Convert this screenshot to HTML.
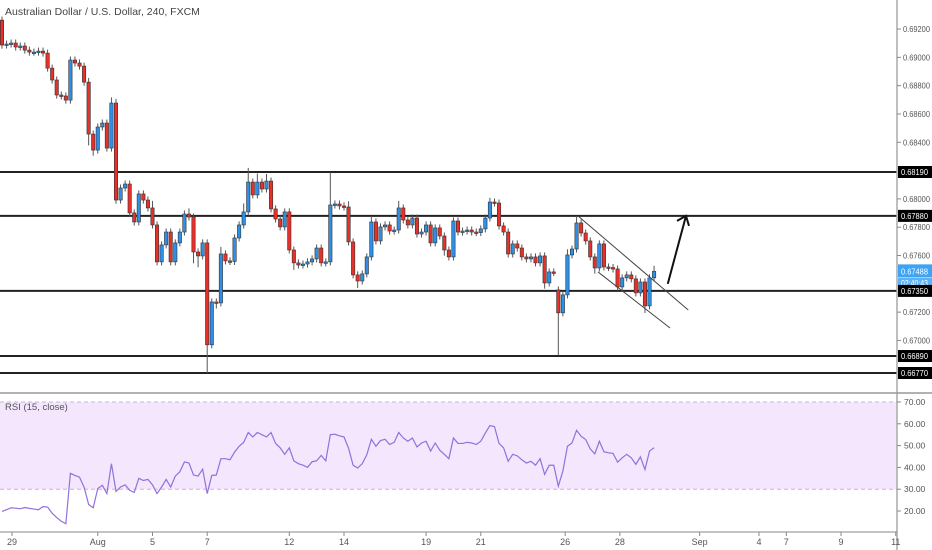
<!DOCTYPE html>
<html><head><meta charset="utf-8">
<style>
html,body{margin:0;padding:0;background:#fff;}
svg{display:block;font-family:"Liberation Sans",sans-serif;}
</style></head>
<body>
<svg id="chart" width="932" height="550" viewBox="0 0 932 550">
  <g id="price-pane"></g>
  <g id="rsi-pane"></g>
  <g id="axes"></g>
  <text x="5" y="15" font-size="10.5" fill="#444">Australian Dollar / U.S. Dollar, 240, FXCM</text>
  <text x="5" y="410" font-size="9.5" fill="#555">RSI (15, close)</text>
</svg>
<script>
const closes = [0.69087,0.69094,0.69101,0.69073,0.69080,0.69051,0.69037,0.69037,0.69044,0.69030,
0.68924,0.68840,0.68734,0.68727,0.68698,0.68981,0.68960,0.68938,0.68825,0.68458,
0.68345,0.68508,0.68536,0.68359,0.68677,0.67992,0.68077,0.68105,0.67901,0.67837,
0.68035,0.67992,0.67936,0.67816,0.67555,0.67675,0.67766,0.67555,0.67689,0.67766,
0.67893,0.67872,0.67625,0.67597,0.67689,0.66969,0.67272,0.67265,0.67611,0.67562,
0.67558,0.67724,0.67816,0.67908,0.68119,0.68028,0.68119,0.68070,0.68126,0.67929,
0.67858,0.67802,0.67908,0.67639,0.67548,0.67533,0.67540,0.67555,0.67576,0.67653,
0.67548,0.67555,0.67957,0.67964,0.67950,0.67943,0.67696,0.67463,0.67420,0.67470,
0.67590,0.67837,0.67703,0.67802,0.67816,0.67773,0.67780,0.67936,0.67851,0.67816,
0.67865,0.67752,0.67766,0.67816,0.67689,0.67795,0.67738,0.67639,0.67590,0.67844,
0.67766,0.67773,0.67780,0.67766,0.67762,0.67788,0.67865,0.67978,0.67971,0.67809,
0.67766,0.67611,0.67682,0.67653,0.67590,0.67576,0.67590,0.67548,0.67597,0.67406,
0.67484,0.67480,0.67195,0.67322,0.67604,0.67646,0.67830,0.67759,0.67703,0.67590,
0.67512,0.67682,0.67519,0.67515,0.67505,0.67378,0.67442,0.67463,0.67435,0.67336,
0.67413,0.67244,0.67442,0.67488];
const firstOpen = 0.69263;
const gapOpens = [[122,0.67357]];
const upperWickPips = [[19,3],[24,4],[25,3],[33,5],[41,4],[48,5],[53,6],[54,10],[56,6],[58,5],[72,23],[76,4],[81,4],[87,5],[107,3],[124,4],[126,5],[143,4]];
const lowerWickPips = [[19,8],[20,4],[42,8],[43,8],[45,20],[47,4],[64,5],[78,5],[97,4],[119,4],[122,30],[130,4],[141,5]];
const rsiValues = [19.8,20.6,21.5,21.3,21,21.6,21.2,20.9,20.6,22,21.8,19,17,15.3,14.2,37.3,36.3,35.5,31,23,
21.5,30.3,31.8,28,41.7,29,31,32,29.5,28.5,35,34,34.5,32,28,31,34.5,31,36,38,
42.5,42,36.5,36,39.2,28,36.3,36.5,44,44,43.5,47,49.7,51.5,56,54,56,55,54,56,
51,49,46,49,43,41.7,41,40,42.6,43,45.5,43,55,55.2,54.5,54,48.8,41,39.7,41.7,
45.8,52.9,49.7,52.3,52.9,50.5,51.5,56,53.5,52,53.5,49.4,51.2,52,47.5,51.2,47.9,46,44,53.5,
51,51,51.5,51.2,50.5,52,55.8,59.2,58.7,51,49,42.8,46,45.3,43.5,42,42.8,41,44,36.8,
41,41,31.4,38.3,49.7,51.2,57,54.3,52.8,48.5,46.2,52,47.2,46.7,46.4,42.4,44.4,46,44.4,41.4,
44.8,39,47.5,49];
const levelPrices = [0.68190,0.67880,0.67350,0.66890,0.66770];
const levelLabels = ["0.68190","0.67880","0.67350","0.66890","0.66770"];
const priceTicks = [0.692,0.690,0.688,0.686,0.684,0.680,0.678,0.676,0.672,0.670];
const priceTickLabels = ["0.69200","0.69000","0.68800","0.68600","0.68400","0.68000","0.67800","0.67600","0.67200","0.67000"];
const rsiTicks = [70,60,50,40,30,20];
const rsiTickLabels = ["70.00","60.00","50.00","40.00","30.00","20.00"];
const dateTickIdx = [2.2,21,33,45,63,75,93,105,123.5,135.5,153,166,172,184,196];
const dateTickLabels = ["29","Aug","5","7","12","14","19","21","26","28","Sep","4","7","9","11"];
const channelUpper = [[126.3,0.67880],[150.5,0.67215]];
const channelLower = [[130.7,0.67484],[146.5,0.67088]];
const arrowLine = [[146,0.67400],[150,0.67880]];

const NS="http://www.w3.org/2000/svg";
const AXIS_X=897, STEP=4.56, X0=2;
const xS=i=>X0+i*STEP;
const yP=p=>172+(0.68190-p)*14155;
const yR=v=>402+(70-v)*2.18;
function mk(tag,attrs,parent){const e=document.createElementNS(NS,tag);for(const k in attrs)e.setAttribute(k,attrs[k]);parent.appendChild(e);return e;}
const pp=document.getElementById('price-pane'), rp=document.getElementById('rsi-pane'), ax=document.getElementById('axes');

let band=mk('rect',{x:0,y:yR(70),width:AXIS_X,height:yR(30)-yR(70),fill:'#f3e6fd'},rp);


[70,30].forEach(v=>{let l=mk('line',{x1:0,x2:AXIS_X,y1:yR(v),y2:yR(v),stroke:'#c8b4d8','stroke-dasharray':'4,3','stroke-width':1},rp);

});

levelPrices.forEach((p,k)=>{let l=mk('line',{x1:0,x2:AXIS_X,y1:yP(p),y2:yP(p),stroke:'#222','stroke-width':2},pp);

});

const upW=new Array(closes.length).fill(2.5), dnW=new Array(closes.length).fill(2.5);
upperWickPips.forEach(([i,v])=>upW[i]=v); lowerWickPips.forEach(([i,v])=>dnW[i]=v);
const opens=closes.map((c,i)=>i===0?firstOpen:closes[i-1]);
gapOpens.forEach(([i,v])=>opens[i]=v);
closes.forEach((c,i)=>{
  const o=opens[i], hi=Math.max(o,c)+upW[i]*0.0001, lo=Math.min(o,c)-dnW[i]*0.0001;
  const x=xS(i), up=c>=o;
  const g=mk('g',{},pp);
  
  
  mk('line',{x1:x,x2:x,y1:yP(hi),y2:yP(lo),stroke:'#555','stroke-width':1},g);
  const top=yP(Math.max(o,c)), h=Math.max(1.5,Math.abs(yP(o)-yP(c)));
  mk('rect',{x:x-1.7,y:top,width:3.4,height:h,fill:up?'#2f8fe6':'#e8302a',stroke:'#333','stroke-width':0.6},g);
});

[channelUpper,channelLower].forEach(seg=>{let l=mk('line',{x1:xS(seg[0][0]),y1:yP(seg[0][1]),x2:xS(seg[1][0]),y2:yP(seg[1][1]),stroke:'#444','stroke-width':1},pp);

});
{const x1=xS(arrowLine[0][0]),y1=yP(arrowLine[0][1]),x2=xS(arrowLine[1][0]),y2=yP(arrowLine[1][1]);
let a=mk('g',{},pp);


mk('line',{x1,y1,x2,y2,stroke:'#111','stroke-width':2},a);
mk('polyline',{points:`${x2-9},${y2+5} ${x2},${y2} ${x2+3},${y2+10}`,fill:'none',stroke:'#111','stroke-width':2},a);}

let rl=mk('polyline',{points:rsiValues.map((v,i)=>xS(i)+','+yR(v)).join(' '),fill:'none',stroke:'#9370db','stroke-width':1.2},rp);



mk('line',{x1:AXIS_X,x2:AXIS_X,y1:0,y2:550,stroke:'#aaa','stroke-width':1.5},ax);
mk('line',{x1:0,x2:932,y1:393,y2:393,stroke:'#999','stroke-width':1.5},ax);
mk('line',{x1:0,x2:AXIS_X,y1:532,y2:532,stroke:'#888','stroke-width':1},ax);
priceTicks.forEach((p,k)=>{mk('line',{x1:AXIS_X,x2:AXIS_X+4,y1:yP(p),y2:yP(p),stroke:'#888'},ax);
let t=mk('text',{x:AXIS_X+6,y:yP(p)+3,'font-size':8.5,fill:'#555',textLength:27,lengthAdjust:'spacingAndGlyphs'},ax);t.textContent=priceTickLabels[k];

});
rsiTicks.forEach((v,k)=>{mk('line',{x1:AXIS_X,x2:AXIS_X+4,y1:yR(v),y2:yR(v),stroke:'#888'},ax);
let t=mk('text',{x:AXIS_X+7,y:yR(v)+3,'font-size':8.5,fill:'#555'},ax);t.textContent=rsiTickLabels[k];

});
{const last=closes[closes.length-1];let g=mk('g',{},ax);


mk('rect',{x:AXIS_X+1,y:yP(last)-7,width:35,height:13,fill:'#3fa3f5'},g);
mk('rect',{x:AXIS_X+1,y:yP(last)+6.5,width:35,height:11,fill:'#5db2f5'},g);
let t=mk('text',{x:AXIS_X+4,y:yP(last)+3,'font-size':8.5,fill:'#fff',textLength:27,lengthAdjust:'spacingAndGlyphs'},g);t.textContent=last.toFixed(5);
let t2=mk('text',{x:AXIS_X+4,y:yP(last)+14.5,'font-size':8.5,fill:'#fff',textLength:27,lengthAdjust:'spacingAndGlyphs'},g);t2.textContent="02:40:43";}
levelPrices.forEach((p,k)=>{let g=mk('g',{},ax);


mk('rect',{x:AXIS_X+1,y:yP(p)-6,width:35,height:12,fill:'#000'},g);
let t=mk('text',{x:AXIS_X+4,y:yP(p)+3,'font-size':8.5,fill:'#fff',textLength:27,lengthAdjust:'spacingAndGlyphs'},g);t.textContent=levelLabels[k];});
dateTickIdx.forEach((d,k)=>{const x=xS(d);mk('line',{x1:x,x2:x,y1:532,y2:536,stroke:'#888'},ax);
let t=mk('text',{x:x,y:545,'font-size':9,fill:'#555','text-anchor':'middle'},ax);t.textContent=dateTickLabels[k];

});
</script>
</body></html>
